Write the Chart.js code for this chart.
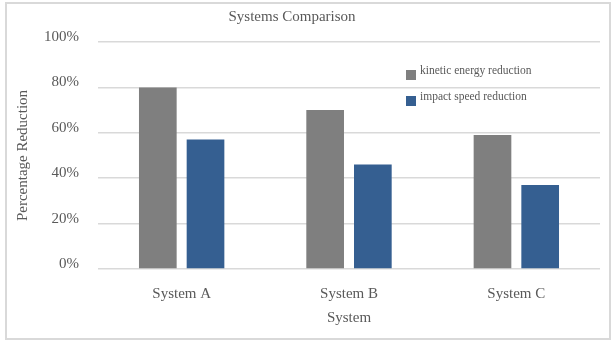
<!DOCTYPE html>
<html>
<head>
<meta charset="utf-8">
<script src="https://cdn.jsdelivr.net/npm/chart.js@4/dist/chart.umd.min.js"></script>
<style>
  html, body { margin: 0; padding: 0; background: #ffffff; }
  #wrap { position: relative; width: 616px; height: 345px; }
  #frame { position: absolute; left: 5px; top: 2px; width: 602px; height: 334px; border: 2px solid #d9d9d9; pointer-events: none; }
  canvas { position: absolute; left: 0; top: 0; }
</style>
</head>
<body>
<div id="wrap">
  <canvas id="chart" width="616" height="345"></canvas>
  <div id="frame"></div>
</div>
<script>
// Systems and their measured reductions (percent)
const systems = ["System A", "System B", "System C"];
const kineticEnergyReduction = [80, 70, 59];
const impactSpeedReduction = [57, 46, 37];
const seriesNames = ["kinetic energy reduction", "impact speed reduction"];
const yTicks = [0, 20, 40, 60, 80, 100];

const FONT = "'Liberation Serif', 'DejaVu Serif', serif";
const TEXT = "#595959";

// Title centred above the plot
const titlePlugin = {
  id: "chartTitle",
  afterDraw(chart) {
    const ctx = chart.ctx;
    ctx.save();
    ctx.font = "15px " + FONT;
    ctx.fillStyle = TEXT;
    ctx.textAlign = "center";
    ctx.textBaseline = "middle";
    ctx.fillText("Systems Comparison", 292, 17);
    ctx.restore();
  }
};

// Legend drawn inside the plot area, top right
const insideLegend = {
  id: "insideLegend",
  afterDraw(chart) {
    const ctx = chart.ctx;
    ctx.save();
    ctx.font = "11.5px " + FONT;
    ctx.textBaseline = "middle";
    ctx.textAlign = "left";
    chart.data.datasets.forEach((ds, i) => {
      const x = 406, y = 70 + i * 26;
      ctx.fillStyle = ds.backgroundColor;
      ctx.fillRect(x, y, 10, 10);
      ctx.fillStyle = TEXT;
      ctx.fillText(ds.label, x + 14, y + 1);
    });
    ctx.restore();
  }
};

new Chart(document.getElementById("chart"), {
  type: "bar",
  data: {
    labels: systems,
    datasets: [
      { label: seriesNames[0], data: kineticEnergyReduction, backgroundColor: "#7f7f7f" },
      { label: seriesNames[1], data: impactSpeedReduction, backgroundColor: "#355f91" }
    ]
  },
  options: {
    responsive: false,
    animation: false,
    layout: { padding: { left: 0, right: 16, top: 42, bottom: 0 } },
    categoryPercentage: 0.57,
    barPercentage: 0.79,
    plugins: {
      legend: { display: false },
      title: { display: false },
      tooltip: { enabled: false }
    },
    scales: {
      x: {
        grid: { display: false },
        border: { display: false },
        ticks: { color: TEXT, font: { family: FONT, size: 15 }, padding: 8 },
        title: { display: true, text: "System", color: TEXT, font: { family: FONT, size: 15 }, padding: { top: 4, bottom: 18 } },
        afterFit(scale) { scale.height = 76; }
      },
      y: {
        min: 0,
        max: 100,
        afterBuildTicks(scale) { scale.ticks = yTicks.map(v => ({ value: v })); },
        grid: { color: "#d9d9d9", lineWidth: 1.5, drawTicks: false },
        border: { display: false },
        ticks: {
          color: TEXT,
          font: { family: FONT, size: 15 },
          padding: 19,
          labelOffset: -5,
          callback: v => v + "%"
        },
        title: { display: true, text: "Percentage Reduction", color: TEXT, font: { family: FONT, size: 15 }, padding: { top: 14, bottom: 0 } },
        afterFit(scale) { scale.width = 98; }
      }
    }
  },
  plugins: [titlePlugin, insideLegend]
});
</script>
</body>
</html>
